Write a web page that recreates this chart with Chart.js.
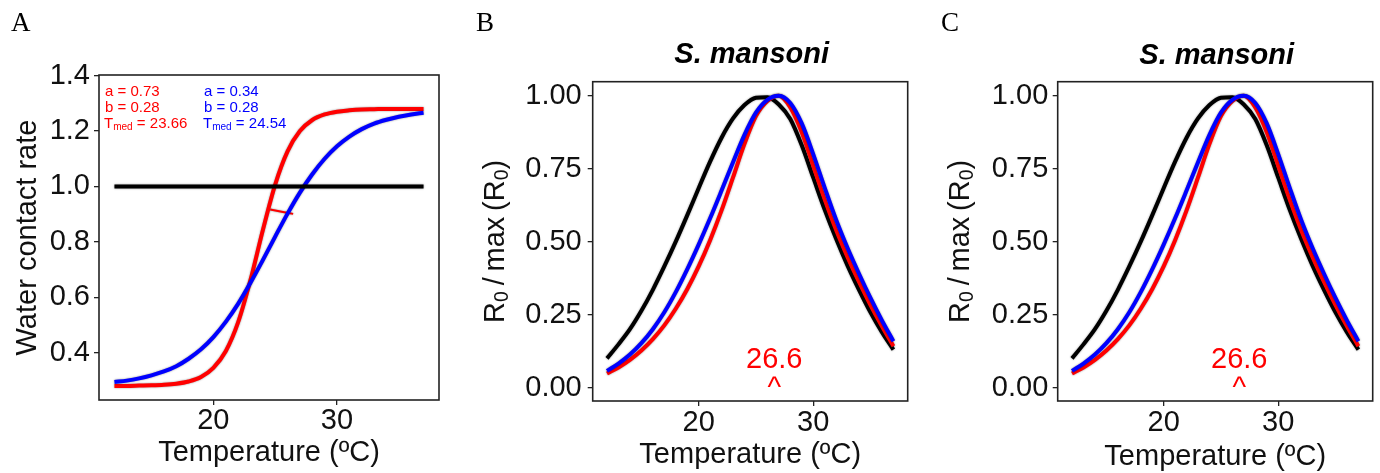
<!DOCTYPE html>
<html>
<head>
<meta charset="utf-8">
<script src="https://cdn.jsdelivr.net/npm/chart.js@4.4.0/dist/chart.umd.min.js"></script>
<style>
  html, body { margin: 0; padding: 0; background: #fff; }
  #wrap { position: relative; width: 1380px; height: 473px; overflow: hidden; }
  #wrap canvas { position: absolute; top: 0; }
  .tag { position: absolute; top: 9px; font-family: 'Liberation Serif', 'DejaVu Serif', serif; font-size: 27px; line-height: 27px; color: #000; }
</style>
</head>
<body>
<div id="wrap">
  <canvas id="chartA" width="460" height="473" style="left:0px"></canvas>
  <canvas id="chartB" width="460" height="473" style="left:460px"></canvas>
  <canvas id="chartC" width="460" height="473" style="left:920px"></canvas>
  <div class="tag" style="left:11px">A</div>
  <div class="tag" style="left:476px">B</div>
  <div class="tag" style="left:941px">C</div>
</div>
<script>
// temperature grid (ºC)
const temps = [12, 13, 14, 15, 16, 17, 18, 19, 20, 21, 22, 23, 24, 25, 26, 27, 28, 29, 30, 31, 32, 33, 34, 35, 36, 37];

// panel A: water contact rate
const wcRed = [0.280, 0.280, 0.281, 0.282, 0.284, 0.288, 0.296, 0.312, 0.345, 0.405, 0.509, 0.662, 0.842,
               1.007, 1.127, 1.200, 1.240, 1.260, 1.270, 1.275, 1.278, 1.279, 1.280, 1.280, 1.280, 1.280];
const wcBlue = [0.294, 0.299, 0.307, 0.318, 0.332, 0.351, 0.378, 0.412, 0.456, 0.511, 0.576, 0.652, 0.734,
                0.819, 0.902, 0.978, 1.044, 1.100, 1.145, 1.180, 1.207, 1.227, 1.241, 1.252, 1.260, 1.266];
const flatTemps = [12, 37];
const wcBlack = [1.0, 1.0];
const segTemps = [24.6, 26.45];
const segValues = [0.917, 0.901];
const paramsRed = [0.73, 0.28, 23.66];   // a, b, Tmed
const paramsBlue = [0.34, 0.28, 24.54];

// panels B and C: R0 / max(R0)
const r0Black = [0.10, 0.148, 0.20, 0.263, 0.335, 0.415, 0.50, 0.59, 0.683, 0.774, 0.856, 0.922, 0.968,
                 0.993, 0.995, 0.97, 0.92, 0.83, 0.72, 0.61, 0.51, 0.418, 0.335, 0.258, 0.19, 0.13];
const r0Red = [0.048, 0.069, 0.095, 0.127, 0.166, 0.213, 0.27, 0.337, 0.415, 0.505, 0.607, 0.72, 0.835,
               0.93, 0.982, 1.0, 0.96, 0.875, 0.76, 0.645, 0.54, 0.447, 0.362, 0.283, 0.21, 0.142];
const r0Blue = [0.057, 0.082, 0.113, 0.152, 0.20, 0.258, 0.327, 0.405, 0.49, 0.58, 0.675, 0.772, 0.866,
                0.942, 0.986, 1.0, 0.975, 0.905, 0.80, 0.685, 0.575, 0.478, 0.39, 0.307, 0.23, 0.159];
const optTemp = 26.6;

// ticks
const tempTicks = [20, 30];
const wcTicks = [0.4, 0.6, 0.8, 1.0, 1.2, 1.4];
const r0Ticks = [0, 0.25, 0.5, 0.75, 1.0];

const SANS = "'Liberation Sans', Arial, sans-serif";
Chart.defaults.font.family = SANS;

// text with subscripts, x/y is the centre line of the digits
function drawRich(ctx, parts, x, y, size, color, align, rotation) {
  ctx.save();
  ctx.translate(x, y);
  ctx.rotate(rotation || 0);
  ctx.fillStyle = color;
  ctx.textAlign = 'left';
  ctx.textBaseline = 'alphabetic';
  const fontFor = p => (p.sub ? size * 0.67 : size) + 'px ' + SANS;
  let width = 0;
  parts.forEach(p => { ctx.font = fontFor(p); width += ctx.measureText(p.t).width; });
  let cx = align === 'center' ? -width / 2 : 0;
  parts.forEach(p => {
    ctx.font = fontFor(p);
    ctx.fillText(p.t, cx, size * 0.36 + (p.sub ? size * 0.15 : 0));
    cx += ctx.measureText(p.t).width;
  });
  ctx.restore();
}

function line(xs, ys, color, width) {
  return {
    data: xs.map((x, i) => ({ x: x, y: ys[i] })),
    borderColor: color,
    borderWidth: width,
    pointRadius: 0,
    fill: false,
    cubicInterpolationMode: 'monotone',
  };
}

// box round the panel + soft grey halo on the curves
const frame = {
  id: 'frame',
  beforeDatasetDraw(chart) {
    const c = chart.ctx;
    c.save();
    c.shadowColor = 'rgba(0,0,0,0.45)';
    c.shadowBlur = 2;
  },
  afterDatasetDraw(chart) {
    chart.ctx.restore();
  },
  afterDraw(chart) {
    const { ctx, chartArea: a } = chart;
    ctx.save();
    ctx.strokeStyle = '#222';
    ctx.lineWidth = 1.6;
    ctx.strokeRect(a.left, a.top, a.right - a.left, a.bottom - a.top);
    ctx.restore();
  },
};

function tempAxis(height, tickPad, titlePad) {
  return {
    type: 'linear',
    position: 'bottom',
    min: 10.75,
    max: 38.25,
    afterFit: s => { s.height = height; },
    afterBuildTicks: s => { s.ticks = tempTicks.map(v => ({ value: v })); },
    grid: { drawOnChartArea: false, tickLength: 5, color: '#222', lineWidth: 1.3 },
    border: { display: false },
    ticks: { font: { size: 29, lineHeight: 1 }, color: '#111', padding: tickPad, maxRotation: 0 },
    title: {
      display: true,
      text: 'Temperature (ºC)',
      color: '#111',
      font: { size: 29, lineHeight: 1 },
      padding: { top: 0, bottom: titlePad },
    },
  };
}

const baseOptions = {
  responsive: false,
  devicePixelRatio: 1,
  animation: false,
  events: [],
  plugins: { legend: { display: false }, tooltip: { enabled: false } },
};

// Panel A
const textA = {
  id: 'textA',
  afterDraw(chart) {
    const { ctx, chartArea: a } = chart;
    const cols = [[paramsRed, '#ff0000', 6], [paramsBlue, '#0000ff', 105]];
    cols.forEach(([p, color, dx]) => {
      drawRich(ctx, [{ t: 'a = ' + p[0].toFixed(2) }], a.left + dx, a.top + 15.7, 15, color, 'left');
      drawRich(ctx, [{ t: 'b = ' + p[1].toFixed(2) }], a.left + dx, a.top + 31.7, 15, color, 'left');
      drawRich(ctx, [{ t: 'T' }, { t: 'med', sub: true }, { t: ' = ' + p[2].toFixed(2) }],
               a.left + dx - 1, a.top + 47.3, 15, color, 'left');
    });
  },
};

new Chart(document.getElementById('chartA'), {
  type: 'line',
  data: {
    datasets: [
      line(flatTemps, wcBlack, '#000000', 4),
      line(temps, wcBlue, '#0000ff', 4),
      line(temps, wcRed, '#ff0000', 4),
      line(segTemps, segValues, '#ff0000', 2),
    ],
  },
  options: {
    ...baseOptions,
    layout: { padding: { left: 0, top: 75, right: 21, bottom: 0 } },
    scales: {
      x: tempAxis(73, 1, 5.5),
      y: {
        type: 'linear',
        min: 0.229,
        max: 1.4025,
        afterFit: s => { s.width = 99; },
        afterBuildTicks: s => { s.ticks = wcTicks.map(v => ({ value: v })); },
        grid: { drawOnChartArea: false, tickLength: 5, color: '#222', lineWidth: 1.3 },
        border: { display: false },
        ticks: { font: { size: 29, lineHeight: 1 }, color: '#111', padding: 4, callback: v => v.toFixed(1) },
        title: {
          display: true,
          text: 'Water contact rate',
          color: '#111',
          font: { size: 29, lineHeight: 1 },
          padding: { top: 13.5, bottom: 0 },
        },
      },
    },
  },
  plugins: [frame, textA],
});

// Panels B and C
const r0Title = [{ t: 'R' }, { t: '0', sub: true }, { t: '\u2009/\u2009max' }, { t: '\u2009(' },
                 { t: 'R' }, { t: '0', sub: true }, { t: ')' }];

function r0Text(titleDy, labelX) {
  return {
    id: 'r0text',
    afterDraw(chart) {
      const { ctx, chartArea: a, scales: { x, y } } = chart;
      ctx.save();
      ctx.textAlign = 'center';
      ctx.textBaseline = 'middle';
      ctx.fillStyle = '#000';
      ctx.font = 'bold italic 29px ' + SANS;
      ctx.fillText('S. mansoni', (a.left + a.right) / 2 + 1.5, a.top + titleDy);
      ctx.fillStyle = '#ff0000';
      ctx.font = '29px ' + SANS;
      ctx.fillText(optTemp.toFixed(1), x.getPixelForValue(optTemp), y.getPixelForValue(0.095));
      ctx.fillText('^', x.getPixelForValue(optTemp), y.getPixelForValue(-0.004));
      ctx.restore();
      drawRich(ctx, r0Title, labelX, (a.top + a.bottom) / 2, 29, '#111', 'center', -Math.PI / 2);
    },
  };
}

function r0Chart(id, o) {
  new Chart(document.getElementById(id), {
    type: 'line',
    data: {
      datasets: [
        line(temps, r0Blue, '#0000ff', 4),
        line(temps, r0Red, '#ff0000', 4),
        line(temps, r0Black, '#000000', 4),
      ],
    },
    options: {
      ...baseOptions,
      layout: { padding: { left: 0, top: 81.7, right: o.right, bottom: 0 } },
      scales: {
        x: tempAxis(72, o.xTickPad, o.xTitlePad),
        y: {
          type: 'linear',
          min: -0.046,
          max: 1.048,
          afterFit: s => { s.width = o.yWidth; },
          afterBuildTicks: s => { s.ticks = r0Ticks.map(v => ({ value: v })); },
          grid: { drawOnChartArea: false, tickLength: 5, color: '#222', lineWidth: 1.3 },
          border: { display: false },
          ticks: { font: { size: 29, lineHeight: 1 }, color: '#111', padding: o.yTickPad, callback: v => v.toFixed(2) },
        },
      },
    },
    plugins: [frame, r0Text(o.titleDy, o.labelX)],
  });
}

r0Chart('chartB', { right: 12.3, yWidth: 132.7, yTickPad: 6, xTickPad: 2.8, xTitlePad: 3.5, titleDy: -26.7, labelX: 33.3 });
r0Chart('chartC', { right: 7.3, yWidth: 137.7, yTickPad: 4.4, xTickPad: 2.8, xTitlePad: 1.8, titleDy: -25.7, labelX: 38.3 });
</script>
</body>
</html>
